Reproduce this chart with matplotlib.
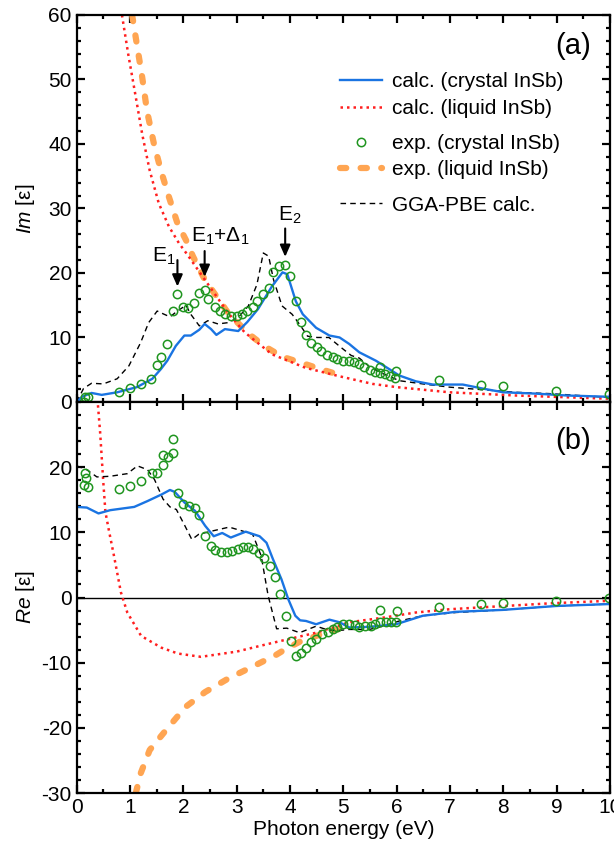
import numpy as np
import matplotlib
matplotlib.use('Agg')
import matplotlib.pyplot as plt

plt.rcParams['font.family'] = ['Liberation Sans', 'DejaVu Sans']
plt.rcParams['mathtext.fontset'] = 'custom'
plt.rcParams['mathtext.rm'] = 'Liberation Sans'
plt.rcParams['mathtext.it'] = 'Liberation Sans:italic'
plt.rcParams['axes.unicode_minus'] = False

# ---- Im part (panel a) ----
# calc. crystal InSb
im_calc_cr_e = [0, 0.1, 0.28, 0.47, 0.76, 1.13, 1.42, 1.58, 1.7, 1.86, 2.02, 2.14, 2.3, 2.4, 2.52, 2.62,
                2.78, 3.03, 3.2, 3.4, 3.66, 3.86, 3.95, 4.11, 4.24, 4.49, 4.74, 4.93, 5.11, 5.3,
                5.61, 5.86, 6.05, 6.36, 6.68, 7.24, 7.6, 8.0, 8.6, 9.2, 10.0]
im_calc_cr = [0, 0.8, 1.4, 1.1, 1.5, 2.3, 3.6, 5.1, 6.4, 8.7, 10.3, 10.3, 11.2, 12.1, 11.3, 10.4,
              11.3, 11.0, 12.4, 14.4, 17.9, 20.1, 19.8, 15.6, 13.6, 11.5, 10.3, 10.0, 9.0, 7.7,
              6.4, 5.1, 4.1, 3.2, 2.7, 2.7, 2.1, 1.5, 1.3, 1.0, 0.8]
# GGA-PBE
im_gga_e = [0, 0.13, 0.28, 0.5, 0.76, 0.98, 1.2, 1.35, 1.51, 1.64, 1.75, 1.89, 2.05, 2.14, 2.3, 2.46,
            2.65, 2.84, 3.03, 3.22, 3.38, 3.5, 3.6, 3.69, 3.85, 4.04, 4.2, 4.33, 4.51, 4.73, 4.95,
            5.15, 5.3, 5.5, 5.74, 6.05, 6.49, 6.99, 7.61, 8.24, 8.86, 10.0]
im_gga = [0, 2.1, 2.9, 2.8, 3.6, 5.6, 9.2, 12.3, 14.1, 13.6, 13.2, 14.1, 15.0, 13.6, 11.8, 12.6,
          12.1, 12.3, 13.1, 14.9, 18.2, 23.1, 22.6, 19.0, 14.9, 13.6, 11.8, 10.2, 10.0, 10.0, 8.5,
          7.2, 6.8, 5.4, 4.4, 3.3, 2.8, 2.3, 1.9, 1.5, 1.3, 0.7]
# calc. liquid InSb
im_calc_lq_e = [0.85, 0.97, 1.1, 1.23, 1.37, 1.54, 1.73, 1.92, 2.08, 2.4, 2.84, 3.15, 3.66, 4.29, 4.92,
                5.55, 6.0, 6.99, 8.24, 10.0]
im_calc_lq = [60, 53.8, 47.7, 41.5, 35.9, 30.8, 27.2, 24.6, 22.8, 19.0, 13.8, 10.8, 7.4, 5.3, 4.0,
              2.8, 2.3, 1.5, 1.0, 0.5]
# exp. liquid InSb
im_exp_lq_e = [1.04, 1.13, 1.23, 1.32, 1.45, 1.58, 1.73, 1.89, 2.05, 2.18, 2.4, 2.84, 3.22, 3.53,
               3.86, 4.24, 4.61, 4.93]
im_exp_lq = [60, 55.4, 50.3, 45.1, 40, 35.9, 31.8, 27.7, 25.1, 22.6, 19.0, 13.8, 10.6, 8.6,
             7.0, 6.0, 5.0, 4.2]
# exp. crystal InSb
im_exp_cr_e = [0.13, 0.16, 0.22, 0.79, 1.0, 1.2, 1.39, 1.5, 1.59, 1.69, 1.8, 1.89, 1.99, 2.08, 2.2,
               2.3, 2.4, 2.47, 2.59, 2.68, 2.79, 2.9, 3.01, 3.1, 3.2, 3.3, 3.39, 3.5, 3.6, 3.69,
               3.79, 3.91, 4.0, 4.11, 4.21, 4.3, 4.4, 4.5, 4.59, 4.7, 4.8, 4.89, 5.0, 5.1, 5.2,
               5.3, 5.39, 5.5, 5.6, 5.69, 5.69, 5.79, 5.88, 5.96, 5.99, 6.79, 7.59, 7.99, 8.99, 9.99]
im_exp_cr = [0.0, 0.8, 0.8, 1.6, 2.2, 2.8, 3.5, 5.7, 6.9, 9.0, 14.1, 16.7, 14.8, 14.6, 15.4,
             16.9, 17.4, 15.9, 14.8, 14.1, 13.6, 13.3, 13.4, 13.6, 14.1, 14.8, 15.6, 16.7, 17.7, 20.1,
             21.1, 21.3, 19.5, 15.6, 12.4, 10.4, 9.2, 8.6, 7.9, 7.3, 6.9, 6.6, 6.4, 6.3, 6.2,
             5.9, 5.4, 4.9, 4.6, 4.5, 5.5, 4.4, 4.1, 3.7, 4.8, 3.4, 2.7, 2.4, 1.7, 1.3]

# ---- Re part (panel b) ----
re_calc_cr_e = [0, 0.19, 0.41, 0.63, 1.08, 1.33, 1.59, 1.75, 1.84, 2.03, 2.22, 2.41, 2.57, 2.73, 2.89,
                3.17, 3.43, 3.56, 3.68, 3.84, 3.97, 4.1, 4.19, 4.3, 4.49, 4.74, 4.93, 5.11, 5.49,
                5.99, 6.49, 7.11, 7.99, 8.99, 10.0]
re_calc_cr = [13.9, 13.8, 12.9, 13.4, 13.9, 14.8, 15.8, 16.5, 16.2, 14.5, 13.3, 11.0, 9.4, 9.9, 9.2,
              10.1, 9.4, 8.4, 5.9, 2.8, -0.3, -2.8, -3.5, -3.6, -4.1, -3.4, -3.8, -4.6, -4.5,
              -4.1, -2.8, -2.2, -1.9, -1.3, -1.0]
re_gga_e = [0, 0.19, 0.38, 0.63, 0.95, 1.14, 1.33, 1.46, 1.62, 1.75, 1.87, 2.03, 2.16, 2.29, 2.54,
            2.86, 3.11, 3.3, 3.46, 3.59, 3.75, 3.94, 4.18, 4.49, 4.68, 4.86, 5.11, 5.49, 5.74, 6.05,
            6.49, 7.11, 7.99, 8.99, 10.0]
re_gga = [20.2, 19.6, 18.5, 18.6, 19.0, 20.2, 19.6, 18.1, 15.1, 13.9, 13.5, 11.0, 8.9, 9.7, 10.2,
          10.8, 10.2, 9.7, 6.4, 0.3, -4.8, -4.7, -5.4, -4.4, -4.9, -5.1, -4.9, -4.9, -4.4, -3.6,
          -2.8, -2.3, -1.9, -1.3, -1.0]
re_calc_lq_e = [0.39, 0.44, 0.5, 0.54, 0.6, 0.7, 0.83, 0.95, 1.21, 1.59, 1.9, 2.33, 3.0, 3.5, 3.86,
                4.49, 5.11, 5.74, 6.36, 6.99, 7.61, 8.24, 8.86, 10.0]
re_calc_lq = [30.5, 25.4, 17.7, 13.1, 10.5, 6.4, 0.8, -2.3, -5.9, -7.7, -8.6, -9.1, -8.3, -7.3, -6.6,
              -5.4, -3.8, -3.1, -2.3, -1.8, -1.5, -1.2, -0.9, -0.5]
re_exp_lq_e = [1.11, 1.2, 1.37, 1.67, 2.04, 2.41, 2.85, 3.3, 3.74, 3.9, 4.18, 4.49, 4.8, 5.0]
re_exp_lq = [-30, -27, -23.4, -20.4, -16.8, -14.5, -12.4, -10.6, -8.8, -8.0, -6.8, -5.9, -5.1, -4.6]
re_exp_cr_e = [0.13, 0.16, 0.18, 0.22, 0.79, 1.0, 1.21, 1.41, 1.51, 1.61, 1.61, 1.71, 1.81, 1.81, 1.9,
               2.0, 2.11, 2.21, 2.3, 2.4, 2.51, 2.6, 2.71, 2.81, 2.91, 3.02, 3.11, 3.22, 3.31, 3.42,
               3.52, 3.62, 3.71, 3.81, 3.92, 4.01, 4.11, 4.21, 4.3, 4.39, 4.49, 4.6, 4.71, 4.8, 4.89,
               4.99, 5.11, 5.21, 5.3, 5.41, 5.51, 5.6, 5.69, 5.69, 5.8, 5.89, 5.99, 6.0, 6.79, 7.59,
               7.99, 8.99, 9.99]
re_exp_cr = [17.3, 19.1, 18.4, 17.0, 16.6, 17.1, 17.9, 19.1, 19.1, 20.3, 21.8, 21.6, 22.1, 24.3, 16.1,
             14.4, 14.0, 13.7, 12.6, 9.4, 7.9, 7.3, 7.0, 7.0, 7.1, 7.4, 7.7, 7.8, 7.5, 6.8,
             6.0, 4.8, 3.2, 0.6, -2.8, -6.6, -8.9, -8.5, -7.7, -6.8, -6.3, -5.6, -5.3, -4.8, -4.5,
             -4.1, -4.0, -4.2, -4.5, -4.4, -4.4, -4.1, -3.8, -1.9, -3.8, -3.8, -3.7, -2.1, -1.4, -1.0,
             -0.9, -0.5, -0.15]

blue = '#1a74e2'
red = '#ff1f1f'
orange = '#ffa552'
green = '#1f951f'

fig = plt.figure(figsize=(6.14, 8.52), dpi=100)
ax1 = fig.add_axes([0.1248, 0.5282, 0.8687, 0.4542])
ax2 = fig.add_axes([0.1248, 0.0692, 0.8687, 0.4590])


def draw(ax, ce, cv, ge, gv, le, lv, oe, ov, xe, xv):
    ho, = ax.plot(oe, ov, color=orange, lw=4.5, ls=(0, (1.0, 2.3)), dash_capstyle='round')
    hr, = ax.plot(le, lv, color=red, lw=1.8, ls=(0, (1, 1.6)))
    hk, = ax.plot(ge, gv, color='k', lw=1.0, ls=(0, (4, 3)))
    hb, = ax.plot(ce, cv, color=blue, lw=1.7)
    hg, = ax.plot(xe, xv, ls='none', marker='o', ms=6, mfc='none', mec=green, mew=1.1)
    return hb, hr, hg, ho, hk


hb, hr, hg, ho, hk = draw(ax1, im_calc_cr_e, im_calc_cr, im_gga_e, im_gga, im_calc_lq_e, im_calc_lq,
                          im_exp_lq_e, im_exp_lq, im_exp_cr_e, im_exp_cr)
draw(ax2, re_calc_cr_e, re_calc_cr, re_gga_e, re_gga, re_calc_lq_e, re_calc_lq,
     re_exp_lq_e, re_exp_lq, re_exp_cr_e, re_exp_cr)
ax2.axhline(0, color='k', lw=1.0, zorder=0)

for ax in (ax1, ax2):
    ax.set_xlim(0, 10)
    ax.set_xticks(np.arange(0, 11, 1))
    ax.set_xticks(np.arange(0, 10.01, 0.5), minor=True)
    ax.tick_params(which='both', direction='in', top=True, right=True, width=1.6, labelsize=15)
    ax.tick_params(which='major', length=5.5)
    ax.tick_params(which='minor', length=3)
    for s in ax.spines.values():
        s.set_linewidth(1.6)

ax1.set_ylim(0, 60)
ax1.set_yticks(np.arange(0, 61, 10))
ax1.set_yticks(np.arange(0, 61, 2), minor=True)
ax1.tick_params(labelbottom=False)
ax2.set_ylim(-30, 30)
ax2.set_yticks(np.arange(-30, 21, 10))
ax2.set_yticks(np.arange(-30, 31, 2), minor=True)

ax1.set_ylabel(r'$\it{Im}$ [ε]', fontsize=15)
ax2.set_ylabel(r'$\it{Re}$ [ε]', fontsize=15)
ax1.yaxis.set_label_coords(-0.075, 0.5)
ax2.yaxis.set_label_coords(-0.075, 0.5)
ax2.set_xlabel('Photon energy (eV)', fontsize=15, labelpad=2)

ax1.text(0.965, 0.92, '(a)', transform=ax1.transAxes, fontsize=21, ha='right', va='center')
ax2.text(0.965, 0.90, '(b)', transform=ax2.transAxes, fontsize=21, ha='right', va='center')

# critical point arrows
arr = dict(arrowstyle='-|>,head_length=0.5,head_width=0.22', color='k', lw=1.5,
           mutation_scale=14, shrinkA=0, shrinkB=0)
ax1.annotate('', xy=(1.89, 17.9), xytext=(1.89, 22.0), arrowprops=arr)
ax1.annotate('', xy=(2.4, 19.4), xytext=(2.4, 23.4), arrowprops=arr)
ax1.annotate('', xy=(3.91, 22.5), xytext=(3.91, 26.9), arrowprops=arr)
ax1.text(1.64, 22.6, 'E$_1$', fontsize=15, ha='center', va='center')
ax1.text(2.7, 25.7, 'E$_1$+Δ$_1$', fontsize=15, ha='center', va='center')
ax1.text(4.0, 29.0, 'E$_2$', fontsize=15, ha='center', va='center')

leg_kw = dict(frameon=False, fontsize=15, handlelength=2.0, handletextpad=0.5, borderpad=0,
              borderaxespad=0, labelspacing=0.36, loc='center left', numpoints=1)
lg1 = ax1.legend([hb, hr], ['calc. (crystal InSb)', 'calc. (liquid InSb)'],
                 bbox_to_anchor=(0.494, 0.793), **leg_kw)
ax1.add_artist(lg1)
lg2 = ax1.legend([hg, ho], ['exp. (crystal InSb)', 'exp. (liquid InSb)'],
                 bbox_to_anchor=(0.494, 0.634), **leg_kw)
ax1.add_artist(lg2)
ax1.legend([hk], ['GGA-PBE calc.'], bbox_to_anchor=(0.494, 0.509), **leg_kw)

fig.savefig('out.png', dpi=100)
